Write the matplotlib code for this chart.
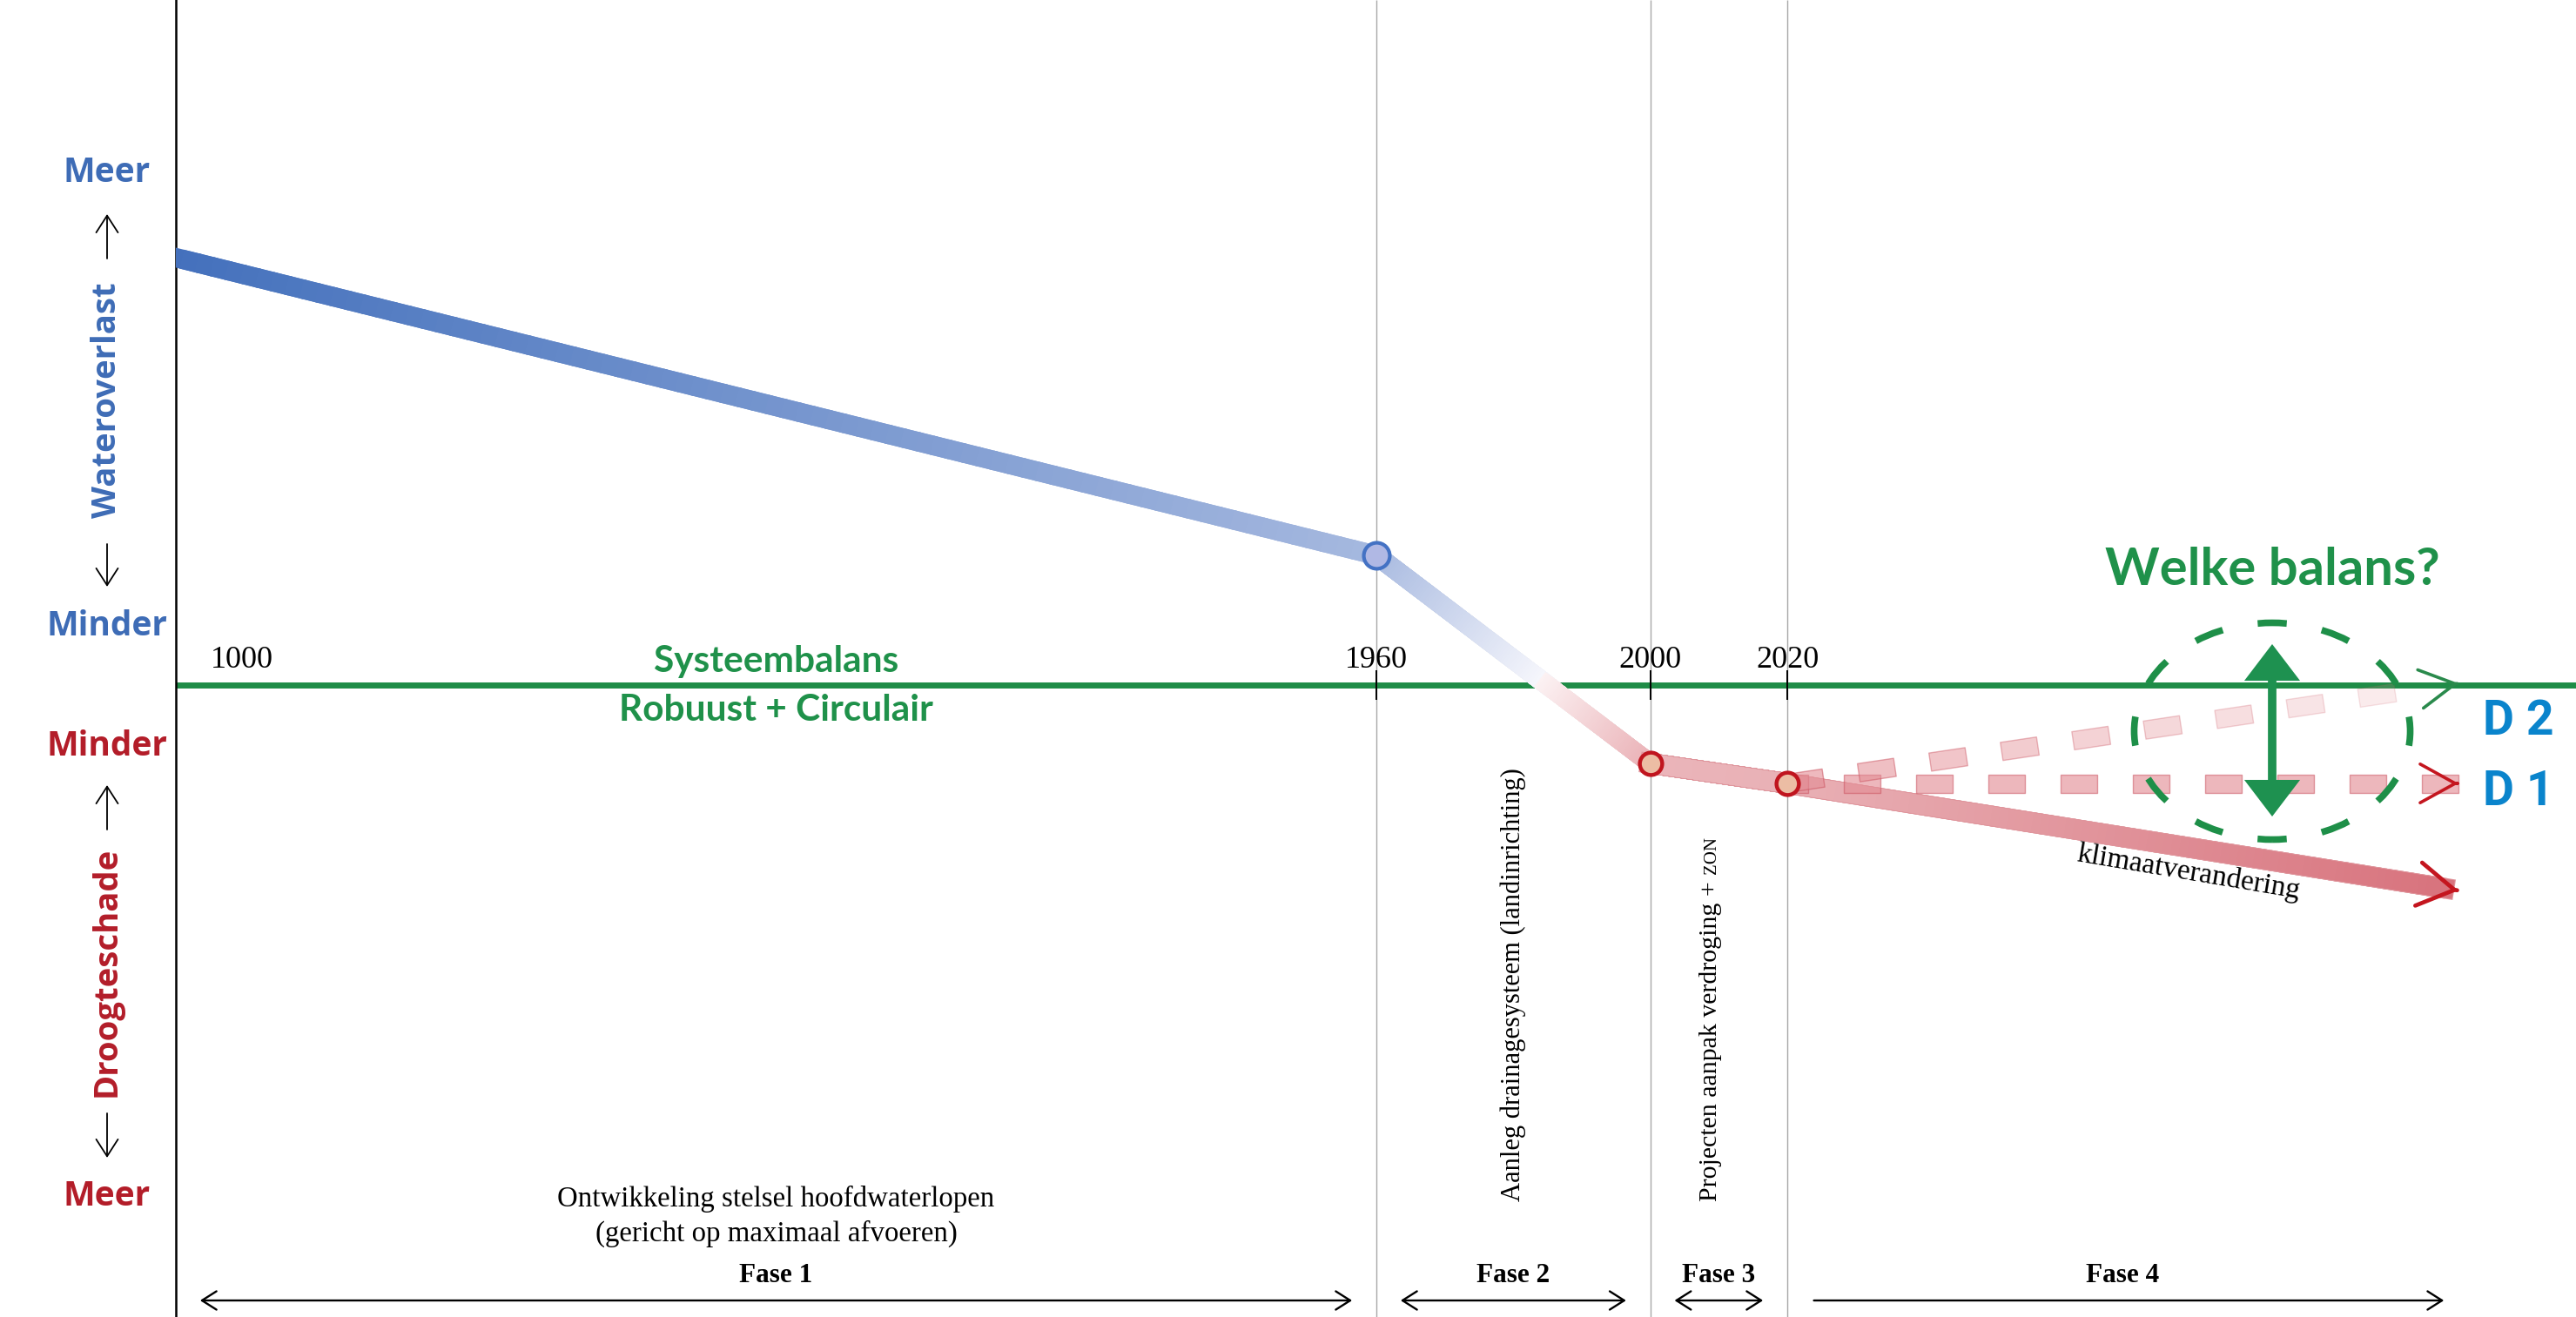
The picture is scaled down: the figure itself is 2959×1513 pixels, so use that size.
import numpy as np
import matplotlib
matplotlib.use("Agg")
import matplotlib.pyplot as plt
from matplotlib.collections import LineCollection, PolyCollection
from matplotlib.patches import Ellipse, FancyArrowPatch
from matplotlib.colors import to_rgb
import matplotlib.patheffects as pe

plt.rcParams["lines.scale_dashes"] = False

# ------------------------------------------------------------------ data
years = [1000, 1960, 2000, 2020]
balans = [4.91, 1.49, -0.90, -1.13]        # + = wateroverlast, - = droogteschade
year_labels = ["1000", "1960", "2000", "2020"]
future_year = 2118
klimaat_end = -2.36
d1_end = -1.13
d2_end = 0.02
scenario_labels = ["D 2", "D 1"]
phase_bounds = [1000, 1960, 2000, 2020, 2118]
phase_labels = ["Fase 1", "Fase 2", "Fase 3", "Fase 4"]

# ------------------------------------------------------------------ style
W, H = 2959, 1513
AXL = 202
SERIF = ["Liberation Serif", "DejaVu Serif"]
SANS = ["Open Sans", "DejaVu Sans"]
CALI = ["Lato", "DejaVu Sans"]
BLUE_T = "#3e6cb6"
RED_T = "#b31d29"
GREEN = "#1f8c47"
GREEN_T = "#1f914a"
DBLUE = "#0a84cc"

fig = plt.figure(figsize=(W / 100, H / 100), dpi=100)
ax = fig.add_axes([AXL / W, 0, 1 - AXL / W, 1])

kn_yr = np.array([1000.0, 1960.0, 2400.0])
kn_px = np.array([0.0, 1379.0, 1379.0 + 440 * 7.867])


def fwd(x):
    return np.interp(x, kn_yr, kn_px)


def inv(p):
    return np.interp(p, kn_px, kn_yr)


ax.set_xscale("function", functions=(fwd, inv))
ax.set_xlim(1000, inv(W - AXL))
ax.set_ylim(-(H - 787) / 100, 787 / 100)
for s in ["top", "right", "bottom"]:
    ax.spines[s].set_visible(False)
ax.spines["left"].set_linewidth(1.8)
ax.spines["left"].set_color("black")
ax.set_xticks([])
ax.set_yticks([])

# vertical grey year lines, system balance line, tick marks
ylo, yhi = ax.get_ylim()
ax.vlines(years[1:], ylo, yhi, colors="#a8a8a8", lw=1.0, zorder=1)
ax.axhline(0, color=GREEN, lw=5.0, zorder=2.5)
ax.vlines(years[1:], -0.17, 0.17, colors="black", lw=1.4, zorder=2.6)

for yr, lab in zip(years, year_labels):
    if yr == years[0]:
        ax.annotate(lab, (yr, 0.20), xytext=(29, 0), textcoords="offset points",
                    ha="left", va="baseline", fontsize=26, family=SERIF)
    else:
        ax.text(yr, 0.20, lab, ha="center", va="baseline", fontsize=26, family=SERIF, zorder=3)


# ------------------------------------------------------------------ gradient band
def gradient_band(xs, ys, cols, lw, n=80, z=3, edge=None):
    segs, colors = [], []
    for i in range(len(xs) - 1):
        t = np.linspace(0, 1, n + 1)
        px = xs[i] + (xs[i + 1] - xs[i]) * t
        py = ys[i] + (ys[i + 1] - ys[i]) * t
        c0, c1 = np.array(to_rgb(cols[i])), np.array(to_rgb(cols[i + 1]))
        for k in range(n):
            segs.append([(px[k], py[k]), (px[k + 1], py[k + 1])])
            tm = 0.5 * (t[k] + t[k + 1])
            colors.append(tuple(c0 + (c1 - c0) * tm))
    lc = LineCollection(segs, colors=colors, linewidths=lw, capstyle="projecting", zorder=z)
    if edge is not None:
        lc.set_path_effects([pe.Stroke(linewidth=lw + 1.6, foreground=edge), pe.Normal()])
    ax.add_collection(lc)
    return lc


LW_BAND = 15.5
x_cross = years[1] + (years[2] - years[1]) * balans[1] / (balans[1] - balans[2])

# pull the band end back by half a line width so the cap stops at the chevron tip
P = ax.transData.transform([(years[3], balans[3]), (future_year, klimaat_end)])
L_clim = np.hypot(*(P[1] - P[0]))
frac = 1 - (LW_BAND * 100 / 72 / 2 + 6) / L_clim
x_bend = years[3] + (future_year - years[3]) * frac
y_bend = balans[3] + (klimaat_end - balans[3]) * frac

gradient_band([years[0], years[1], x_cross], [balans[0], balans[1], 0.0],
              ["#4370bc", "#a5b8df", "#f5f6fc"], LW_BAND + 0.5)
gradient_band([x_cross, years[2]], [0.0, balans[2]],
              ["#fcf2f3", "#ebb5ba"], LW_BAND)
gradient_band([years[2], years[3], x_bend], [balans[2], balans[3], y_bend],
              ["#ebb5ba", "#e9b1b6", "#d8747e"], LW_BAND, edge="#e0959c")


# ------------------------------------------------------------------ dashed scenarios
def dash_polys(p0, p1, dash, period, half, from_end=False):
    T = ax.transData
    P0, P1 = T.transform(p0), T.transform(p1)
    v = P1 - P0
    L = np.hypot(*v)
    u = v / L
    nv = np.array([-u[1], u[0]])
    if from_end:
        ends = L - period * np.arange(int(L // period) + 2)
        spans = [(max(e - dash, 0.0), e) for e in ends if e > 0]
    else:
        starts = period * np.arange(int(L // period) + 1)
        spans = [(s0, s0 + dash) for s0 in starts if s0 + dash <= L]
    polys, pos = [], []
    inv_t = T.inverted()
    for a, b in spans:
        c = np.array([P0 + u * a + nv * half, P0 + u * b + nv * half,
                      P0 + u * b - nv * half, P0 + u * a - nv * half])
        polys.append(inv_t.transform(c))
        pos.append(0.5 * (a + b) / L)
    return polys, np.array(pos)


polys1, _ = dash_polys((years[3], balans[3]), (future_year, d1_end), 42, 83, 10.5, from_end=True)
ax.add_collection(PolyCollection(polys1, facecolors=[(0.89, 0.55, 0.58, 0.62)],
                                 edgecolors=[(0.80, 0.33, 0.38, 0.55)], linewidths=1.0, zorder=4))

polys2, pos2 = dash_polys((years[3], balans[3]), (future_year, d2_end), 42, 83, 10.5)
alph = 0.62 * (1 - 0.82 * pos2)
fc2 = [(0.89, 0.55, 0.58, a) for a in alph]
ec2 = [(0.80, 0.33, 0.38, a * 0.9) for a in alph]
ax.add_collection(PolyCollection(polys2, facecolors=fc2, edgecolors=ec2, linewidths=1.0, zorder=4))

# markers
ax.plot(years[1], balans[1], "o", ms=21.5, mfc="#b0b8e4", mec="#4472c4", mew=3.0, zorder=6)
ax.plot(years[2:], balans[2:], "o", ms=18.5, mfc="#ecbda4", mec="#c0151f", mew=3.2, zorder=6, ls="none")


def chevron(x0, y0, x1, y1, color, lw, hl=1.45, hw=0.8):
    xb = x1 - 0.002 * (x1 - x0)
    yb = y1 - 0.002 * (y1 - y0)
    ax.annotate("", xy=(x1, y1), xytext=(xb, yb),
                arrowprops=dict(arrowstyle=f"->,head_length={hl},head_width={hw}",
                                color=color, lw=lw, shrinkA=0, shrinkB=0, mutation_scale=20),
                zorder=7)


chevron(years[3], balans[3], future_year, klimaat_end, "#c4161f", 3.4, 1.5, 0.9)
chevron(years[3], balans[3], future_year, d1_end, "#c4161f", 2.6)
chevron(years[3], balans[3], future_year, d2_end, "#2a8a4c", 2.6)

# scenario labels
ax.annotate(scenario_labels[0], (future_year, d2_end), xytext=(20, -32), textcoords="offset points",
            ha="left", va="center", fontsize=40, fontweight="bold", family=["Roboto", "DejaVu Sans"],
            color=DBLUE)
ax.annotate(scenario_labels[1], (future_year, d1_end), xytext=(20, -7), textcoords="offset points",
            ha="left", va="center", fontsize=40, fontweight="bold", family=["Roboto", "DejaVu Sans"],
            color=DBLUE)

# klimaatverandering label
ang = np.degrees(np.arctan2(P[1, 1] - P[0, 1], P[1, 0] - P[0, 0]))
tk = 0.604
xk = years[3] + (future_year - years[3]) * tk
yk = balans[3] + (klimaat_end - balans[3]) * tk
ar = np.radians(ang)
off = 20.5
ax.annotate("klimaatverandering", (xk, yk), xytext=(off * np.sin(ar), -off * np.cos(ar)),
            textcoords="offset points", rotation=ang - 0.5, rotation_mode="anchor",
            ha="center", va="center", fontsize=24, family=SERIF, zorder=7)

# ------------------------------------------------------------------ "Welke balans?"
ell_x, ell_y, ell_w, ell_h = 2090.8, -0.53, 40.3, 2.49
a_px, b_px = 158.5, 124.5
perim = np.pi * (3 * (a_px + b_px) - np.sqrt((3 * a_px + b_px) * (a_px + 3 * b_px))) * 72 / 100
per = perim / 12
dsh = 0.45 * per
ax.add_patch(Ellipse((ell_x, ell_y), ell_w, ell_h, fill=False, ec="#1e8f48", lw=5.5,
                     linestyle=(dsh / 2, (dsh, per - dsh)), capstyle="butt", zorder=8))
ax.add_patch(FancyArrowPatch((ell_x, 0.47), (ell_x, -1.51),
                             arrowstyle="<|-|>,head_length=1.05,head_width=0.8",
                             mutation_scale=20, lw=7, color="#1e9150", shrinkA=0, shrinkB=0,
                             joinstyle="miter", capstyle="butt", zorder=9))
ax.text(ell_x, 1.32, "Welke balans?", ha="center", va="center", fontsize=43,
        fontweight="bold", family=CALI, color=GREEN_T, zorder=9)

# ------------------------------------------------------------------ phases
phase_mid = [float(inv(0.5 * (fwd(a) + fwd(b)))) for a, b in zip(phase_bounds[:-1], phase_bounds[1:])]

ax.text(phase_mid[0], 0.15, "Systeembalans", ha="center", va="baseline", fontsize=30.5,
        fontweight="bold", family=CALI, color=GREEN_T)
ax.text(phase_mid[0], -0.41, "Robuust + Circulair", ha="center", va="baseline", fontsize=30.5,
        fontweight="bold", family=CALI, color=GREEN_T)

ax.text(phase_mid[0], -5.99, "Ontwikkeling stelsel hoofdwaterlopen", ha="center", va="baseline",
        fontsize=23.7, family=SERIF)
ax.text(phase_mid[0], -6.39, "(gericht op maximaal afvoeren)", ha="center", va="baseline",
        fontsize=23.7, family=SERIF)
ax.text(phase_mid[1], -5.93, "Aanleg drainagesysteem (landinrichting)", rotation=90,
        ha="center", va="bottom", fontsize=22, family=SERIF)
t3 = ax.text(phase_mid[2] - 1.2, -5.93, "Projecten aanpak verdroging +", rotation=90,
             ha="center", va="bottom", fontsize=21.5, family=SERIF)
ax.annotate("ZON", xy=(1.0, 1.0), xycoords=t3, xytext=(-1.4, 6), textcoords="offset points",
            rotation=90, ha="right", va="bottom", fontsize=15, family=SERIF)

ARROW_Y = -7.07
LABEL_Y = -6.86
for i, lab in enumerate(phase_labels):
    a, b = phase_bounds[i], phase_bounds[i + 1]
    last = i == len(phase_labels) - 1
    style = ("->" if last else "<->") + ",head_length=0.6,head_width=0.38"
    ax.annotate("", xy=(b, ARROW_Y), xytext=(a, ARROW_Y),
                arrowprops=dict(arrowstyle=style, lw=1.7, color="black",
                                shrinkA=22 if last else 20, shrinkB=12 if last else 20,
                                mutation_scale=20))
    ax.text(phase_mid[i], LABEL_Y, lab, ha="center", va="baseline", fontsize=22.5,
            fontweight="bold", family=SERIF)


# ------------------------------------------------------------------ left legend
def fx(px):
    return px / W


def fy(py):
    return 1 - py / H


def side_word(px, py, s, color):
    fig.text(fx(px), fy(py), s, color=color, fontsize=28, fontweight="bold", family=SANS,
             ha="center", va="baseline")


def side_arrow(y_from, y_to):
    fig.add_artist(FancyArrowPatch((fx(123), fy(y_from)), (fx(123), fy(y_to)),
                                   transform=fig.transFigure,
                                   arrowstyle="->,head_length=0.7,head_width=0.45",
                                   mutation_scale=20, lw=1.3, color="black",
                                   shrinkA=0, shrinkB=0))


side_word(123, 209, "Meer", BLUE_T)
side_word(123, 730, "Minder", BLUE_T)
side_word(123, 868, "Minder", RED_T)
side_word(123, 1385, "Meer", RED_T)
fig.text(fx(133), fy(460), "Wateroverlast", rotation=90, rotation_mode="anchor", ha="center",
         va="baseline", color=BLUE_T, fontsize=27.5, fontweight="bold", family=SANS)
fig.text(fx(133), fy(1116), "Droogteschade", rotation=90, rotation_mode="anchor", ha="center",
         va="baseline", color=RED_T, fontsize=27.5, fontweight="bold", family=SANS)
side_arrow(297, 246)
side_arrow(625, 674)
side_arrow(953, 902)
side_arrow(1279, 1330)

fig.savefig("out.png", dpi=100)
